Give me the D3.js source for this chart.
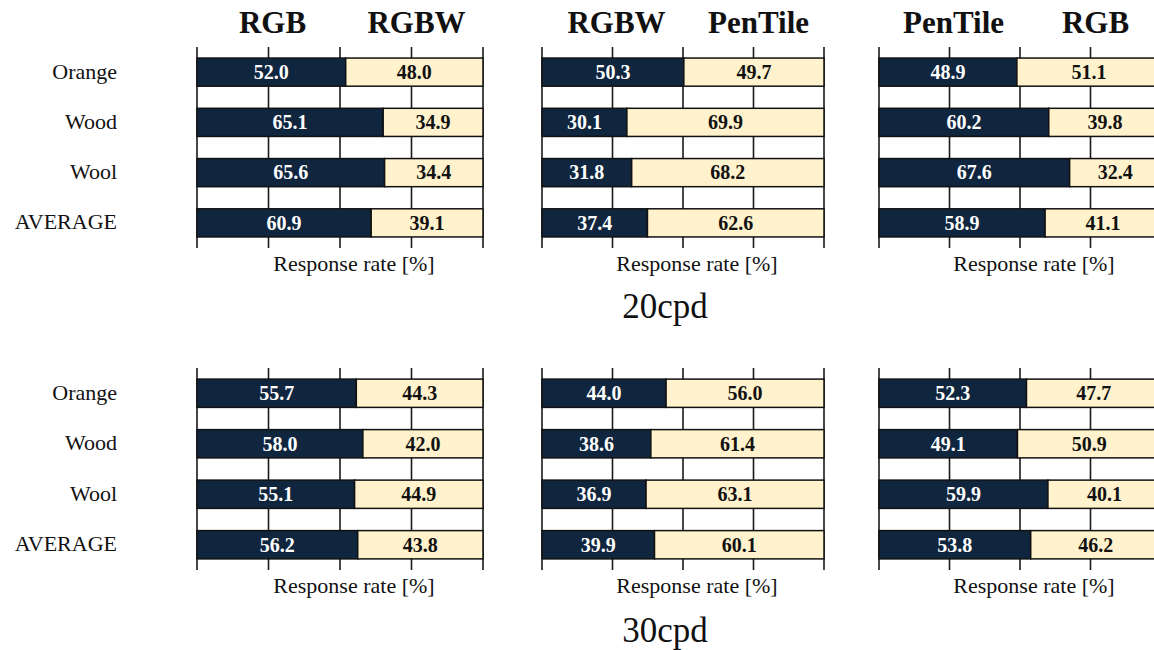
<!DOCTYPE html>
<html>
<head>
<meta charset="utf-8">
<script src="https://cdn.jsdelivr.net/npm/d3@7"></script>
<style>
  html, body { margin: 0; padding: 0; background: #fff; }
  svg { display: block; font-family: "Liberation Serif", "Times New Roman", serif; }
</style>
</head>
<body>
<svg id="chart" width="1154" height="650"></svg>
<script>
// Stimuli and comparison pairs
const categories = ["Orange", "Wood", "Wool", "AVERAGE"];
const pairLeft  = ["RGB", "RGBW", "PenTile"];
const pairRight = ["RGBW", "PenTile", "RGB"];
const resolutions = ["20cpd", "30cpd"];
const ticks = [0, 25, 50, 75, 100];

// Response rates [%] for the left-hand display of each pair
const left20  = [[52.0, 65.1, 65.6, 60.9], [50.3, 30.1, 31.8, 37.4], [48.9, 60.2, 67.6, 58.9]];
const right20 = [[48.0, 34.9, 34.4, 39.1], [49.7, 69.9, 68.2, 62.6], [51.1, 39.8, 32.4, 41.1]];
const left30  = [[55.7, 58.0, 55.1, 56.2], [44.0, 38.6, 36.9, 39.9], [52.3, 49.1, 59.9, 53.8]];
const right30 = [[44.3, 42.0, 44.9, 43.8], [56.0, 61.4, 63.1, 60.1], [47.7, 50.9, 40.1, 46.2]];

const leftByRes  = [left20, left30];
const rightByRes = [right20, right30];

const navy = "#10263f";
const cream = "#fff2cc";

const svg = d3.select("#chart");

const panelX = [[197, 483], [542, 824], [879, 1161]];
const rowY = [[47, 248], [368, 570]];
const resLabelY = [318, 642];

resolutions.forEach((res, r) => {
  const y = d3.scaleBand().domain(categories).range(rowY[r]).paddingInner(0.44).paddingOuter(0.22);

  // category labels
  svg.append("g").selectAll("text").data(categories).join("text")
    .attr("x", 117)
    .attr("y", d => y(d) + y.bandwidth() / 2)
    .attr("dy", "0.3em")
    .attr("text-anchor", "end")
    .attr("font-size", 22)
    .attr("fill", "#111")
    .text(d => d);

  panelX.forEach((px, p) => {
    const x = d3.scaleLinear().domain([0, 100]).range(px);
    const g = svg.append("g");

    // vertical grid / tick lines
    g.selectAll("line.grid").data(ticks).join("line")
      .attr("class", "grid")
      .attr("x1", d => x(d)).attr("x2", d => x(d))
      .attr("y1", rowY[r][0]).attr("y2", rowY[r][1])
      .attr("stroke", "#1a1a1a").attr("stroke-width", 1.6);

    const rows = categories.map((c, i) => ({
      cat: c,
      a: leftByRes[r][p][i],
      b: rightByRes[r][p][i]
    }));

    // left segment
    g.selectAll("rect.a").data(rows).join("rect")
      .attr("class", "a")
      .attr("x", x(0))
      .attr("y", d => y(d.cat))
      .attr("width", d => x(d.a) - x(0))
      .attr("height", y.bandwidth())
      .attr("fill", navy).attr("stroke", "#111").attr("stroke-width", 1.5);

    // right segment
    g.selectAll("rect.b").data(rows).join("rect")
      .attr("class", "b")
      .attr("x", d => x(d.a))
      .attr("y", d => y(d.cat))
      .attr("width", d => x(d.a + d.b) - x(d.a))
      .attr("height", y.bandwidth())
      .attr("fill", cream).attr("stroke", "#111").attr("stroke-width", 1.5);

    g.selectAll("text.la").data(rows).join("text")
      .attr("class", "la")
      .attr("x", d => x(d.a / 2))
      .attr("y", d => y(d.cat) + y.bandwidth() / 2)
      .attr("dy", "0.34em")
      .attr("text-anchor", "middle")
      .attr("font-size", 20).attr("font-weight", "bold")
      .attr("fill", "#fff")
      .text(d => d.a.toFixed(1));

    g.selectAll("text.lb").data(rows).join("text")
      .attr("class", "lb")
      .attr("x", d => x(d.a + d.b / 2))
      .attr("y", d => y(d.cat) + y.bandwidth() / 2)
      .attr("dy", "0.34em")
      .attr("text-anchor", "middle")
      .attr("font-size", 20).attr("font-weight", "bold")
      .attr("fill", "#111")
      .text(d => d.b.toFixed(1));

    // axis title
    g.append("text")
      .attr("x", x(50) + 14)
      .attr("y", rowY[r][1] + 23)
      .attr("text-anchor", "middle")
      .attr("font-size", 22)
      .attr("fill", "#111")
      .text("Response rate [%]");

    // pair names above the top row
    if (r === 0) {
      g.append("text")
        .attr("x", x(25) + 4).attr("y", 33)
        .attr("text-anchor", "middle")
        .attr("font-size", 31).attr("font-weight", "bold")
        .attr("fill", "#111")
        .text(pairLeft[p]);
      g.append("text")
        .attr("x", x(75) + 5).attr("y", 33)
        .attr("text-anchor", "middle")
        .attr("font-size", 31).attr("font-weight", "bold")
        .attr("fill", "#111")
        .text(pairRight[p]);
    }
  });

  svg.append("text")
    .attr("x", 665).attr("y", resLabelY[r])
    .attr("text-anchor", "middle")
    .attr("font-size", 35)
    .attr("fill", "#111")
    .text(res);
});
</script>
</body>
</html>
